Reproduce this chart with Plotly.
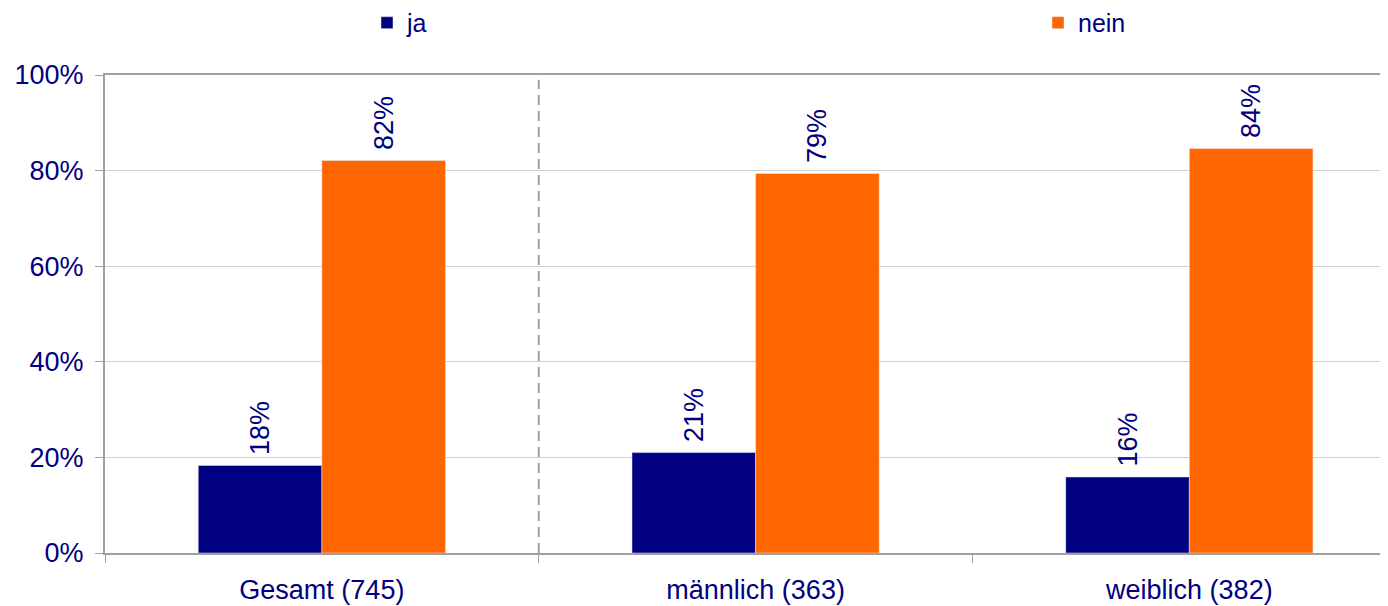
import plotly.graph_objects as go

categories = ["Gesamt (745)", "männlich (363)", "weiblich (382)"]
ja_values = [18.3, 21.0, 15.9]
nein_values = [82.1, 79.4, 84.6]
ja_labels = ["18%", "21%", "16%"]
nein_labels = ["82%", "79%", "84%"]
y_ticks = [0, 20, 40, 60, 80, 100]
y_ticktext = ["0%", "20%", "40%", "60%", "80%", "100%"]

NAVY = "#000080"
ORANGE = "#FF6600"
FONT = "Liberation Sans, Arial, sans-serif"

fig = go.Figure()
fig.add_trace(go.Bar(
    name="ja", x=categories, y=ja_values, marker_color=NAVY,
    text=ja_labels, texttemplate="\u00a0%{text}", textposition="outside", textangle=-90,
    textfont=dict(color=NAVY, size=27, family=FONT), cliponaxis=False,
    legend="legend",
))
fig.add_trace(go.Bar(
    name="nein", x=categories, y=nein_values, marker_color=ORANGE,
    text=nein_labels, texttemplate="\u00a0%{text}", textposition="outside", textangle=-90,
    textfont=dict(color=NAVY, size=27, family=FONT), cliponaxis=False,
    legend="legend2",
))

# dashed separator between total and gender groups
fig.add_shape(type="line", xref="x", yref="y", x0=0.5, x1=0.5, y0=0, y1=99,
              line=dict(color="#A0A0A0", width=2, dash="10px,6px"))

legend_style = dict(orientation="h", xref="container", yref="container",
                    xanchor="left", yanchor="middle", y=0.975,
                    font=dict(size=25, color=NAVY, family=FONT),
                    itemwidth=30, bgcolor="rgba(0,0,0,0)")

fig.update_layout(
    width=1380, height=598, showlegend=True,
    barmode="group", bargap=0.43, bargroupgap=0,
    paper_bgcolor="white", plot_bgcolor="white",
    font=dict(family=FONT, color=NAVY, size=27),
    margin=dict(l=97, r=0, t=67, b=53, autoexpand=False),
    legend=dict(x=(382 - 8 - 15) / 1380, **legend_style),
    legend2=dict(x=(1054 - 8 - 16) / 1380, **legend_style),
)
fig.update_xaxes(
    range=[-0.5, 2.458], showline=True, mirror=True, linecolor="#A0A0A0", linewidth=2,
    ticks="outside", tickson="boundaries", ticklen=8, tickcolor="#A0A0A0",
    tickfont=dict(size=27, color=NAVY), showgrid=False, automargin=False,
    ticklabelstandoff=12,
)
fig.update_yaxes(
    range=[0, 100], tickvals=y_ticks, ticktext=y_ticktext,
    showline=True, linecolor="#A0A0A0", linewidth=2,
    ticks="outside", ticklen=8, tickcolor="#A0A0A0",
    gridcolor="#D0D0D0", gridwidth=1, zeroline=False,
    tickfont=dict(size=27, color=NAVY), automargin=False,
    ticklabelstandoff=6,
)

fig.write_html("out.html")
